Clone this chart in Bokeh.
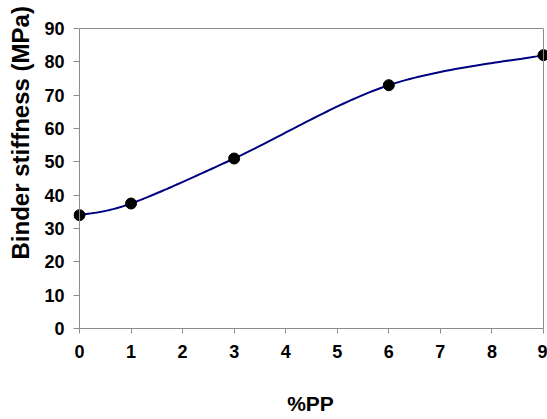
import numpy as np
from bokeh.plotting import figure
from bokeh.models import Range1d, FixedTicker, LinearAxis, Title, Span
from bokeh.embed import file_html
from bokeh.resources import INLINE

# Binder stiffness versus polypropylene content
pp_percent = [0, 1, 3, 6, 9]
stiffness_mpa = [34, 37.5, 51, 73, 82]

x_ticks = [0, 1, 2, 3, 4, 5, 6, 7, 8, 9]
y_ticks = [0, 10, 20, 30, 40, 50, 60, 70, 80, 90]

FONT = "Liberation Sans"
GREY = "#8c8c8c"
X_MIN, X_MAX = 0, 9
Y_MIN, Y_MAX = 0, 90


def smooth_curve(xs, ys, steps=40):
    """Bezier smoothing through the points (spreadsheet-style smoothed line)."""
    pts = np.column_stack([xs, ys]).astype(float)
    ext = np.vstack([pts[0], pts, pts[-1]])
    out = []
    for i in range(len(pts) - 1):
        p0, p1, p2, p3 = ext[i], ext[i + 1], ext[i + 2], ext[i + 3]
        c1 = p1 + (p2 - p0) / 6.0
        c2 = p2 - (p3 - p1) / 6.0
        t = np.linspace(0, 1, steps)[:, None]
        seg = ((1 - t) ** 3) * p1 + 3 * ((1 - t) ** 2) * t * c1 + 3 * (1 - t) * t ** 2 * c2 + t ** 3 * p2
        out.append(seg if i == 0 else seg[1:])
    out = np.vstack(out)
    return out[:, 0], out[:, 1]


# x range padded slightly so the end markers stay whole; the box is drawn at 0..9
p = figure(width=547, height=419, output_backend="svg", toolbar_location=None,
           x_range=Range1d(X_MIN - 0.116, X_MAX + 0.078), y_range=Range1d(Y_MIN, Y_MAX),
           min_border_left=72, min_border_right=0, min_border_top=28, min_border_bottom=91)

p.xgrid.visible = False
p.ygrid.visible = False
p.outline_line_color = None
p.background_fill_color = "white"
p.border_fill_color = "white"

for ax, ticks in ((p.xaxis[0], x_ticks), (p.yaxis[0], y_ticks)):
    ax.ticker = FixedTicker(ticks=ticks)
    ax.major_tick_line_color = GREY
    ax.minor_tick_out = 0
    ax.minor_tick_in = 0
    ax.major_label_text_font = FONT
    ax.major_label_text_font_style = "bold"
    ax.major_label_text_font_size = "18px"
    ax.major_label_text_color = "black"

# x axis: line and ticks span 0..9
p.xaxis.bounds = (X_MIN, X_MAX)
p.xaxis.axis_line_color = GREY
p.xaxis.major_tick_out = 5
p.xaxis.major_tick_in = 0
p.xaxis.major_label_standoff = 11

# y axis sits at the padded frame edge; its ticks reach in to x = 0
p.yaxis.axis_line_color = None
p.yaxis.major_tick_out = 0
p.yaxis.major_tick_in = 6
p.yaxis.major_label_standoff = 9

p.xaxis.axis_label = "%PP"
p.xaxis.axis_label_text_font = FONT
p.xaxis.axis_label_text_font_style = "bold"
p.xaxis.axis_label_text_font_size = "21px"
p.xaxis.axis_label_text_color = "black"
p.xaxis.axis_label_standoff = 31

# remaining sides of the plot box
p.add_layout(Span(location=X_MIN, dimension="height", line_color=GREY, line_width=1))
p.add_layout(Span(location=X_MAX, dimension="height", line_color=GREY, line_width=1))
top_edge = LinearAxis(ticker=FixedTicker(ticks=[]), bounds=(X_MIN, X_MAX),
                      axis_line_color=GREY, major_tick_out=0, major_tick_in=0,
                      minor_tick_out=0, minor_tick_in=0, major_label_standoff=0)
p.add_layout(top_edge, "above")

p.add_layout(Title(text="Binder stiffness (MPa)", align="left", offset=69,
                   vertical_align="top", standoff=12,
                   text_font=FONT, text_font_style="bold",
                   text_font_size="24px", text_color="black"), "left")

cx, cy = smooth_curve(pp_percent, stiffness_mpa)
p.line(cx, cy, line_color="#000080", line_width=2)
p.scatter(pp_percent, stiffness_mpa, size=11, fill_color="black", line_color="black")

open("out.html", "w").write(file_html(p, INLINE))
